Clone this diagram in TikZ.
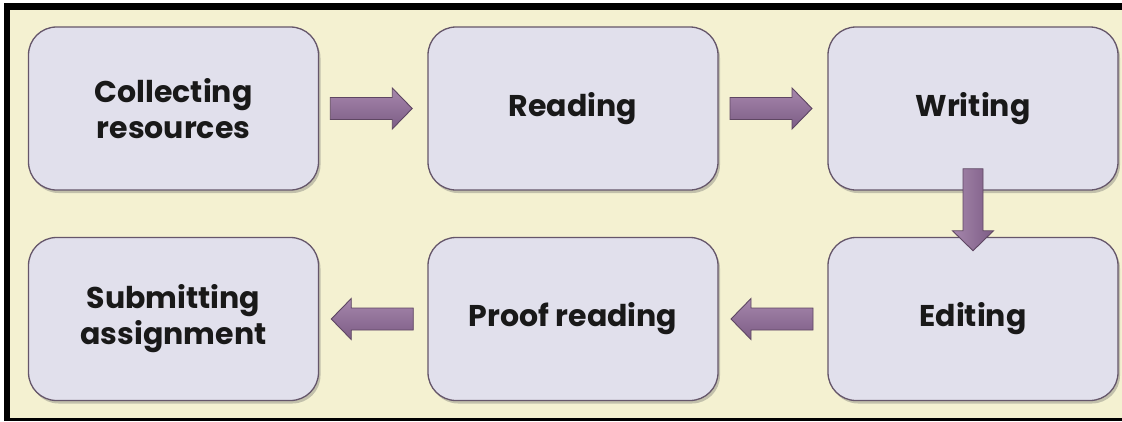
\documentclass[tikz,border=0pt]{standalone}
\usepackage{fontspec}
\setmainfont{Poppins}
\usetikzlibrary{calc,shadows}
\definecolor{bgcream}{HTML}{F4F1D1}
\definecolor{boxfill}{HTML}{E1E0EC}
\definecolor{boxline}{HTML}{65566A}
\definecolor{arrtop}{HTML}{A687AC}
\definecolor{arrbot}{HTML}{7C5C85}
\definecolor{arrline}{HTML}{5E4662}
\tikzset{
  stepbox/.style={draw=boxline, line width=1.3pt, fill=boxfill, rounded corners=28pt,
    minimum width=290pt, minimum height=163pt, inner sep=0pt,
    align=center, font=\bfseries\fontsize{30}{36}\selectfont, text=black!90,
    drop shadow={shadow xshift=2pt, shadow yshift=-3pt, opacity=0.35, fill=black!60}},
  blockarr/.style={draw=arrline, line width=0.9pt, top color=arrtop, bottom color=arrbot}
}
\newcommand\hblockarrow[2]{% #1 centre, #2 = 1 (right) or -1 (left)
  \begin{scope}[shift={(#1)}, xscale=#2]
    \draw[blockarr] (-41,-11) -- (21,-11) -- (21,-20.5) -- (41,0) -- (21,20.5) -- (21,11) -- (-41,11) -- cycle;
  \end{scope}}
\begin{document}
\begin{tikzpicture}[x=1pt, y=-1pt]
  \useasboundingbox (0,0) rectangle (1122,421);
  \fill[white] (0,0) rectangle (1122,421);
  \fill[bgcream] (10,10) rectangle (1122,418);
  \fill[black] (4,3) rectangle (1122,10);
  \fill[black] (4,3) rectangle (10,421);
  \fill[black] (4,418) rectangle (1122,421);

  \node[stepbox] (c1) at (173.5,108.5) {Collecting\\resources};
  \node[stepbox] (c2) at (573,108.5) {Reading};
  \node[stepbox] (c3) at (973,108.5) {Writing};
  \node[stepbox] (c4) at (973,319) {Editing};
  \node[stepbox] (c5) at (573,319) {Proof reading};
  \node[stepbox] (c6) at (173.5,319) {Submitting\\assignment};

  \coordinate (a1) at ($(c1.east)!0.5!(c2.west)+(-2,0)$);
  \coordinate (a2) at ($(c2.east)!0.5!(c3.west)+(-2,0)$);
  \coordinate (a3) at ($(c3.south)!0.5!(c4.north)+(0,-4)$);
  \coordinate (a4) at ($(c5.east)!0.5!(c4.west)+(-1,0)$);
  \coordinate (a5) at ($(c6.east)!0.5!(c5.west)+(-1,0)$);

  \hblockarrow{a1}{1}
  \hblockarrow{a2}{1}
  \begin{scope}[shift={(a3)}]
    \draw[blockarr, left color=arrtop, right color=arrbot] (-10,-41) -- (10,-41) -- (10,21) -- (20.5,21) -- (0,41) -- (-20.5,21) -- (-10,21) -- cycle;
  \end{scope}
  \hblockarrow{a4}{-1}
  \hblockarrow{a5}{-1}
\end{tikzpicture}
\end{document}
